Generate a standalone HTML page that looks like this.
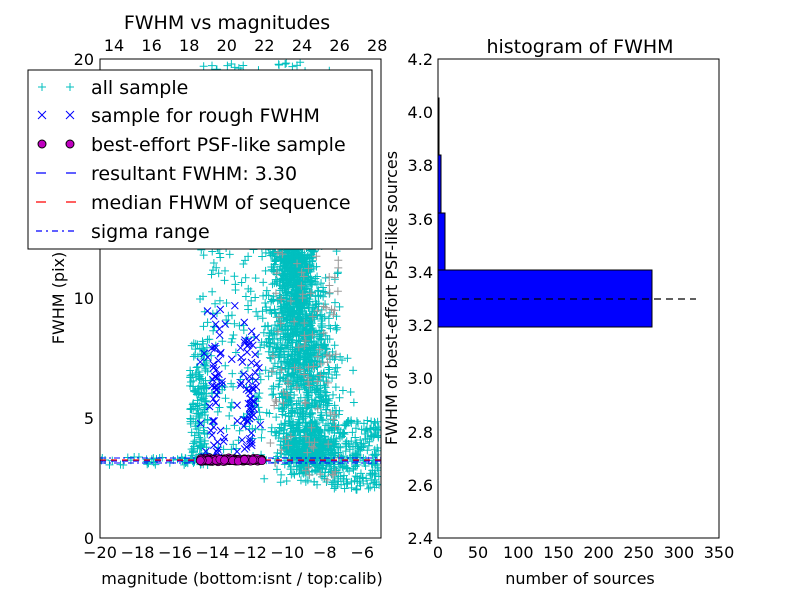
<!DOCTYPE html>
<html><head><style>
body{margin:0;background:#fff;}
svg text{font-family:"DejaVu Sans","Liberation Sans",sans-serif;}
</style></head><body>
<svg id="s" width="800" height="600" xmlns="http://www.w3.org/2000/svg">
<rect width="800" height="600" fill="#fff"/>
<g id="pts"></g>
<g font-size="16" fill="#000">
<rect x="100" y="59" width="281" height="479" fill="none" stroke="#000"/>
<text x="227" y="29" text-anchor="middle" font-size="19">FWHM vs magnitudes</text>
<g text-anchor="middle">
<text x="100" y="558">−20</text><text x="137.5" y="558">−18</text><text x="175" y="558">−16</text>
<text x="212.4" y="558">−14</text><text x="249.9" y="558">−12</text><text x="287.3" y="558">−10</text>
<text x="324.8" y="558">−8</text><text x="362.3" y="558">−6</text>
<text x="114" y="51">14</text><text x="151.6" y="51">16</text><text x="189.2" y="51">18</text>
<text x="226.8" y="51">20</text><text x="264.4" y="51">22</text><text x="302" y="51">24</text>
<text x="339.6" y="51">26</text><text x="377.2" y="51">28</text>
</g>
<g text-anchor="end">
<text x="94" y="544">0</text><text x="94" y="424">5</text><text x="94" y="304">10</text><text x="94" y="65">20</text>
</g>
<text x="242" y="584" text-anchor="middle">magnitude (bottom:isnt / top:calib)</text>
<text transform="translate(64,298) rotate(-90)" text-anchor="middle">FWHM (pix)</text>
<text x="580" y="53" text-anchor="middle" font-size="19">histogram of FWHM</text>
<rect x="438" y="270" width="214" height="57" fill="#00f" stroke="#000"/>
<rect x="438" y="213" width="7" height="57" fill="#00f" stroke="#000"/>
<rect x="438" y="155" width="3" height="58" fill="#00f" stroke="#000"/>
<rect x="438" y="98" width="1" height="57" fill="#00f" stroke="#000"/>
<line x1="438" y1="299" x2="696" y2="299" stroke="#000" stroke-width="1.2" stroke-dasharray="7,5"/>
<rect x="438" y="59" width="281" height="479" fill="none" stroke="#000"/>
<g text-anchor="middle">
<text x="438" y="558">0</text><text x="478" y="558">50</text><text x="518.3" y="558">100</text>
<text x="558.4" y="558">150</text><text x="598.6" y="558">200</text><text x="638.7" y="558">250</text>
<text x="678.9" y="558">300</text><text x="719" y="558">350</text>
</g>
<g text-anchor="end">
<text x="433" y="65">4.2</text><text x="433" y="118">4.0</text><text x="433" y="171">3.8</text>
<text x="433" y="225">3.6</text><text x="433" y="278">3.4</text><text x="433" y="331">3.2</text>
<text x="433" y="384">3.0</text><text x="433" y="438">2.8</text><text x="433" y="491">2.6</text>
<text x="433" y="544">2.4</text>
</g>
<text x="580" y="584" text-anchor="middle">number of sources</text>
<text transform="translate(397,298) rotate(-90)" text-anchor="middle">FWHM of best-effort PSF-like sources</text>
</g>
<g font-size="19">
<rect x="28" y="70" width="344" height="179" fill="#fff" stroke="#000"/>
<g stroke="#00bfbf" stroke-width="1"><path d="M38 87h8M42 83v8M66 87h8M70 83v8"/></g>
<g stroke="#00f"><path d="M38 111l8 8M46 111l-8 8M66 111l8 8M74 111l-8 8"/></g>
<circle cx="42" cy="144" r="4" fill="#bf00bf" stroke="#000"/><circle cx="70" cy="144" r="4" fill="#bf00bf" stroke="#000"/>
<path d="M36 173h10M66 173h10" stroke="#00f" stroke-width="1.3"/>
<path d="M36 202h10M66 202h10" stroke="#f00" stroke-width="1.3"/>
<path d="M36 231h6M46 231h2M52 231h6M62 231h2M68 231h6" stroke="#00f" stroke-width="1.3"/>
<text x="91" y="94">all sample</text>
<text x="91" y="122">sample for rough FWHM</text>
<text x="91" y="151">best-effort PSF-like sample</text>
<text x="91" y="180">resultant FWHM: 3.30</text>
<text x="91" y="209">median FHWM of sequence</text>
<text x="91" y="238">sigma range</text>
</g>
</svg>
<script>
var s=7;function r(){s=(s*16807)%2147483647;return s/2147483647;}
function g(){return (r()+r()+r()+r()-2)*0.9;}
var h='';
function plus(x,y,c){h+='<path d="M'+(x-4)+' '+y+'h8M'+x+' '+(y-4)+'v8" stroke="'+c+'" stroke-width="1"/>';}
function cross(x,y){h+='<path d="M'+(x-3.5)+' '+(y-3.5)+'l7 7M'+(x+3.5)+' '+(y-3.5)+'l-7 7" stroke="#00f" stroke-width="1"/>';}
var i,x,y,t;
for(i=0;i<2000;i++){t=Math.pow(r(),0.7);y=485-t*290;x=303+(y-380)*0.08+g()*(13+(y-195)*0.1);plus(x,y,'#00bfbf');}
for(i=0;i<400;i++){x=310+g()*24;y=450+g()*20;plus(x,y,'#00bfbf');}
for(i=0;i<200;i++){x=330+r()*50;y=420+r()*70;plus(x,y,'#00bfbf');}
for(i=0;i<300;i++){x=262+r()*80;y=62+r()*300;plus(x,y,'#00bfbf');}
for(i=0;i<100;i++){x=270+r()*70;y=250+r()*230;plus(x,y,'#999');}
for(i=0;i<160;i++){x=190+r()*18;y=340+r()*125;plus(x,y,'#00bfbf');}
for(i=0;i<280;i++){x=200+r()*62;y=62+r()*400;plus(x,y,'#00bfbf');}
for(i=0;i<40;i++){x=100+r()*95;y=457+r()*8;plus(x,y,'#00bfbf');}
for(i=0;i<40;i++){x=215+g()*6;y=300+r()*160;cross(x,y);}
for(i=0;i<50;i++){x=250+g()*8;y=330+r()*130;cross(x,y);}
for(i=0;i<30;i++){x=200+r()*55;y=280+r()*180;cross(x,y);}
h+='<line x1="100" y1="461" x2="381" y2="461" stroke="#00f" stroke-width="1.3" stroke-dasharray="6,5"/>';
h+='<line x1="100" y1="460" x2="381" y2="460" stroke="#f00" stroke-width="1.3" stroke-dasharray="6,5"/>';
h+='<line x1="100" y1="458" x2="381" y2="458" stroke="#00f" stroke-width="1" stroke-dasharray="6,3,2,3"/>';
h+='<line x1="100" y1="463" x2="381" y2="463" stroke="#00f" stroke-width="1" stroke-dasharray="6,3,2,3"/>';
for(i=0;i<220;i++){x=200+r()*62;y=460+g()*1.5;h+='<circle cx="'+x+'" cy="'+y+'" r="4" fill="#bf00bf" stroke="#000" stroke-width="0.6"/>';}
document.getElementById('pts').innerHTML='<svg x="0" y="0" width="800" height="600"><clipPath id="c"><rect x="100" y="59" width="281" height="479"/></clipPath><g clip-path="url(#c)">'+h+'</g></svg>';
</script>
</body></html>
